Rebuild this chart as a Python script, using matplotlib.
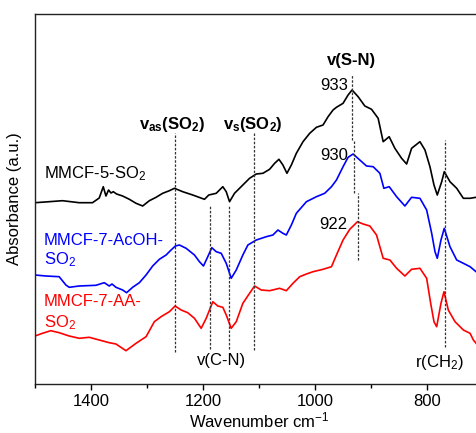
import matplotlib
matplotlib.use("Agg")
import matplotlib.pyplot as plt
from matplotlib.ticker import FixedLocator

plt.rcParams['font.family'] = ['Liberation Sans', 'DejaVu Sans']
plt.rcParams['mathtext.fontset'] = 'custom'
plt.rcParams['mathtext.rm'] = 'Liberation Sans'
plt.rcParams['mathtext.it'] = 'Liberation Sans:italic'
plt.rcParams['mathtext.bf'] = 'Liberation Sans:bold'

# ---- data (wavenumber cm-1, absorbance a.u.) ----
wn_black = [1500, 1474.7, 1450.9, 1421, 1397.2, 1385.2, 1378, 1373.2, 1368.5, 1364.2, 1360.1,
            1354.2, 1343.4, 1331.4, 1319.4, 1307.6, 1295.6, 1283.6, 1271.8, 1259.8, 1250.8,
            1236, 1218.1, 1197.1, 1189.4, 1176.1, 1164.3, 1158.2, 1152.3, 1143.4, 1128.5,
            1116.5, 1104.5, 1092.7, 1080.7, 1071.7, 1064, 1056.9, 1049.7, 1041.8, 1032.9,
            1021, 1009, 997, 985.2, 976.2, 967.3, 961.2, 949.4, 940.4, 933.3, 922.5, 910.5,
            898.5, 886.7, 877.7, 867, 856.8, 844.8, 835.8, 826.9, 812, 803, 794.1, 786.9,
            781, 773.1, 768.5, 758.3, 746.3, 734.4, 722.4, 711.7]
ab_black = [181.3, 182.3, 183.3, 181.3, 181.3, 186, 197.3, 188, 194, 191, 192.3,
            190, 188, 184.7, 180.7, 178, 183.3, 186.7, 190.7, 193.3, 195.7,
            192.3, 189, 184.7, 189, 190.7, 197.3, 192.3, 182.3, 190.7, 199,
            205.7, 210, 210.7, 214.7, 220.7, 224.7, 219, 210.7, 219, 230.7,
            242.3, 250.7, 256.7, 259, 267.3, 274, 276.7, 280.7, 289, 294, 287.3, 278,
            274.7, 265.7, 242.3, 247.3, 235.7, 225.7, 220, 235.7, 242.3, 234, 217.3, 199,
            189, 202.3, 212.3, 202.3, 195.7, 185.7, 185.7, 186.7]

wn_blue = [1500, 1480.7, 1456.8, 1444.8, 1438.9, 1421, 1391.1, 1376.2, 1367.3, 1362.4, 1355.3,
           1343.4, 1336.3, 1325.5, 1313.5, 1301.5, 1289.7, 1277.7, 1265.7, 1256.8, 1249.1,
           1241.9, 1229.9, 1215, 1206.1, 1198.9, 1191.2, 1184, 1176.1, 1167.2, 1158.2,
           1149.3, 1140.3, 1128.5, 1119.5, 1104.5, 1086.6, 1074.8, 1065.8, 1056.9, 1050.8,
           1041.8, 1032.9, 1014.9, 997, 982.2, 970.1, 961.2, 949.4, 940.4, 931.5, 919.5,
           907.5, 895.6, 883.6, 876.5, 866.9, 853.7, 838.9, 826.9, 812, 800, 791, 785.1,
           781, 774.4, 768.5, 758.3, 746.3, 734.4, 722.4, 711.7]
ab_blue = [109, 108, 107.3, 99, 96.7, 98, 98.7, 101.3, 98, 100, 96.7,
           94, 91.3, 96.7, 101.3, 109, 118, 124.7, 129, 134, 138,
           139, 135.7, 129, 122.3, 118, 127.3, 136.3, 132.3, 130.7, 120.7,
           105.7, 114, 129, 139, 144, 147.3, 149, 154, 150.7, 149,
           159, 170.7, 182.3, 187.3, 190.7, 197.3, 204, 217.3, 226.7, 230, 224,
           218, 217.3, 210.7, 195.7, 197.3, 187.3, 178, 186.7, 185.7, 174, 150.7, 132.3,
           125.7, 144, 155.7, 137.3, 124, 120.7, 117.3, 112.3]

wn_red = [1500, 1486.7, 1471.7, 1456.8, 1438.9, 1421, 1403.1, 1385.2, 1367.3, 1355.3, 1337.4,
          1319.4, 1301.5, 1286.7, 1274.7, 1259.8, 1249.6, 1238.8, 1227, 1215, 1203,
          1194, 1182.2, 1173.3, 1164.3, 1158.2, 1149.3, 1140.3, 1128.5, 1116.5, 1107.5,
          1095.6, 1080.7, 1062.8, 1050.8, 1038.9, 1026.9, 1014.9, 1003.1, 985.2, 970.1,
          961.2, 949.4, 937.4, 923.6, 913.6, 901.6, 889.6, 877.7, 865.7, 853.7, 838.9,
          826.9, 812, 800, 792.8, 786.9, 782.1, 774.4, 769, 761.3, 749.3, 734.4, 722.4,
          716.5, 711.7]
ab_red = [48, 50.7, 53.3, 51.3, 48, 45.7, 46.7, 44, 41.3, 40, 33.3,
          40.7, 47.3, 62.3, 67.3, 72.3, 78, 74, 71.3, 65.7, 55.7,
          65.7, 82.3, 78, 76.7, 69, 55.7, 62.3, 80.7, 90.7, 98,
          94, 93.3, 95.7, 93.3, 100.7, 107.3, 110, 112.3, 114.7, 117.3,
          129, 144, 154.7, 162.3, 160, 158, 149, 125.7, 124, 115.7, 108,
          114.7, 115.7, 105.7, 80.7, 62.3, 57.3, 80.7, 92.3, 74, 62.3, 54, 50.7,
          44, 40.7]

series_labels = ["MMCF-5-SO$_2$", "MMCF-7-AcOH-", "MMCF-7-AA-"]
peak_labels = ["933", "930", "922"]
peak_positions = [933, 930, 922]
band_positions = [1249, 1188, 1154, 1108, 768]
x_major = [1400, 1200, 1000, 800]
x_minor = [1500, 1300, 1100, 900, 700]

# ---- figure ----
fig = plt.figure(figsize=(4.76, 4.33), dpi=100)
ax = fig.add_axes([35 / 476, 1 - 384 / 433, (482.6 - 35) / 476, (384 - 14) / 433])
ax.set_xlim(1500, 700)
ax.set_ylim(0, 370)

ax.plot(wn_black, ab_black, color='black', lw=1.2)
ax.plot(wn_blue, ab_blue, color='#0000ff', lw=1.2)
ax.plot(wn_red, ab_red, color='#ff0000', lw=1.2)

dash = dict(color='#333333', lw=0.9, linestyle=(0, (2.0, 1.3)))
ax.plot([band_positions[0]] * 2, [32, 251], **dash)
ax.plot([band_positions[1]] * 2, [35, 179], **dash)
ax.plot([band_positions[2]] * 2, [35, 179], **dash)
ax.plot([band_positions[3]] * 2, [34, 251], **dash)
ax.plot([band_positions[4]] * 2, [37, 244], **dash)
ax.plot([peak_positions[0]] * 2, [244, 309], **dash)
ax.plot([peak_positions[1]] * 2, [191, 244], **dash)
ax.plot([peak_positions[2]] * 2, [124, 191], **dash)

fs = 12
ax.text(1484, 210, series_labels[0], color='black', fontsize=fs, va='center', ha='left')
ax.text(1484, 144, series_labels[1], color='#0000ff', fontsize=fs, va='center', ha='left')
ax.text(1484, 124, "SO$_2$", color='#0000ff', fontsize=fs, va='center', ha='left')
ax.text(1484, 82, series_labels[2], color='#ff0000', fontsize=fs, va='center', ha='left')
ax.text(1484, 61, "SO$_2$", color='#ff0000', fontsize=fs, va='center', ha='left')

ax.text(1255, 259, r"$\mathbf{v_{as}(SO_2)}$", fontsize=fs, ha='center', va='center')
ax.text(1110, 259, r"$\mathbf{v_{s}(SO_2)}$", fontsize=fs, ha='center', va='center')
ax.text(934, 324, "v(S-N)", fontsize=fs, fontweight='bold', ha='center', va='center')
ax.text(941, 298, peak_labels[0], fontsize=fs, ha='right', va='center')
ax.text(941, 229, peak_labels[1], fontsize=fs, ha='right', va='center')
ax.text(941, 160, peak_labels[2], fontsize=fs, ha='right', va='center')
ax.text(1167, 24, "v(C-N)", fontsize=fs, ha='center', va='center')
ax.text(778, 22, "r(CH$_2$)", fontsize=fs, ha='center', va='center')

ax.xaxis.set_major_locator(FixedLocator(x_major))
ax.xaxis.set_minor_locator(FixedLocator(x_minor))
ax.set_yticks([])
ax.tick_params(axis='x', which='major', direction='out', length=4.5, width=1, labelsize=fs, pad=3)
ax.tick_params(axis='x', which='minor', direction='out', length=3, width=1)
for s in ax.spines.values():
    s.set_linewidth(1.0)
    s.set_color('#222222')

ax.set_xlabel("Wavenumber cm$^{-1}$", fontsize=fs, labelpad=1)
ax.set_ylabel("Absorbance (a.u.)", fontsize=fs, labelpad=9)

fig.savefig("out.png", dpi=100)
